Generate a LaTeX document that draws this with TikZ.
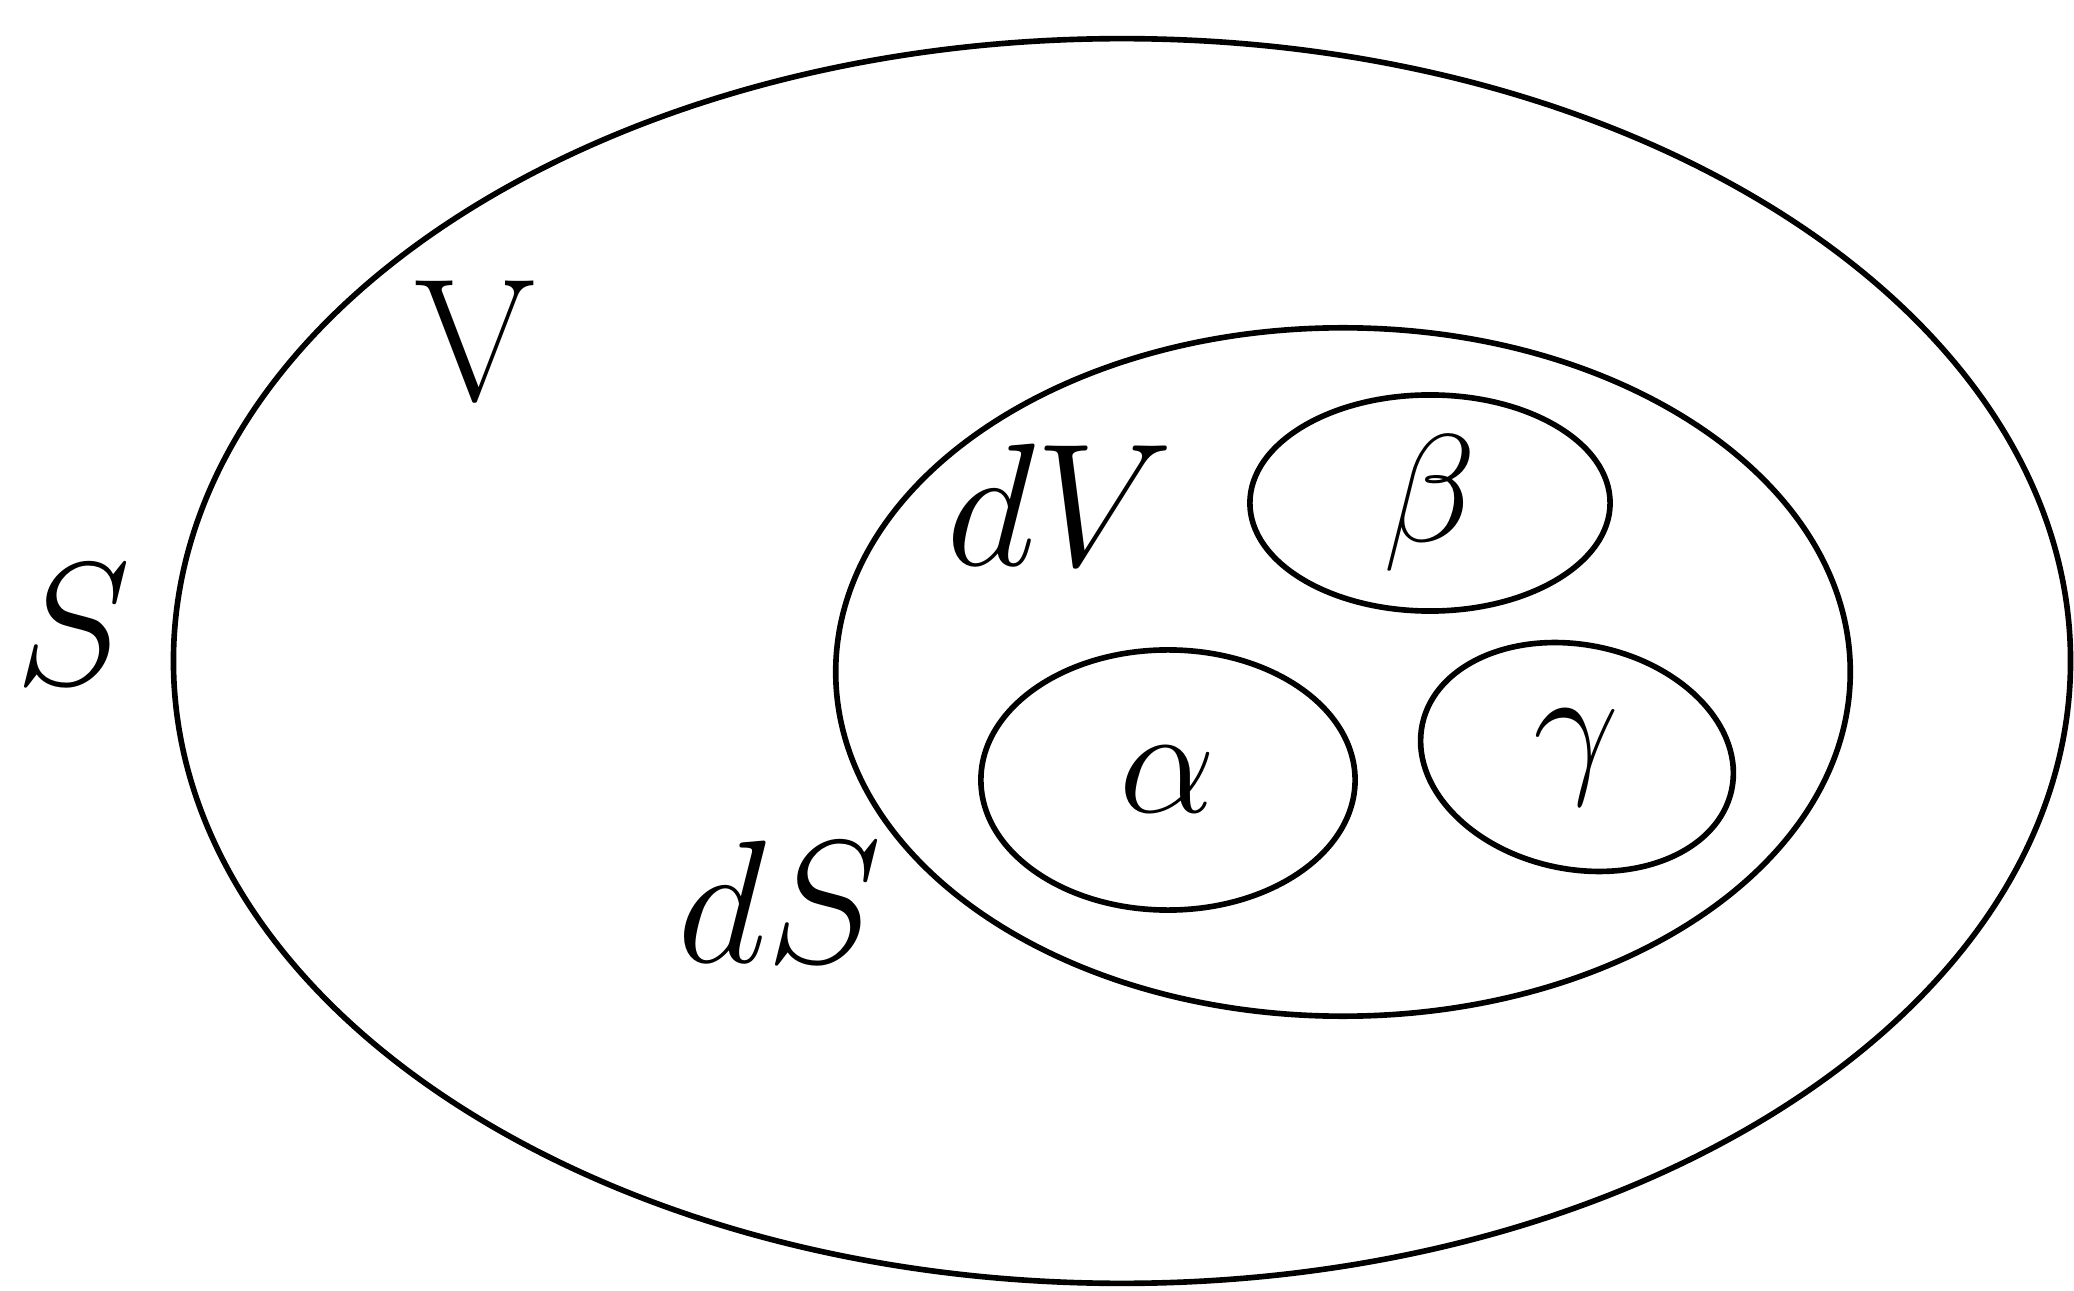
\documentclass[tikz,border=0pt]{standalone}
\usepackage{amsmath,amssymb}
\usepackage{tikz}
\usetikzlibrary{shapes.geometric}
\tikzset{
  region/.style={ellipse, draw=black, line width=1.6pt, inner sep=0pt},
  lbl/.style={font=\Huge, scale=2.0, inner sep=0pt},
  glbl/.style={font=\Huge, scale=1.75, inner sep=0pt},
}
\begin{document}
\begin{tikzpicture}[x=0.01cm, y=-0.01cm]
  \useasboundingbox (0,0) rectangle (2074,1291);
  \node[region, minimum width=18.96cm, minimum height=12.44cm] (vol) at (1122,661) {};
  \node[region, minimum width=10.14cm, minimum height=6.88cm] (dvol) at (1343,672) {};
  \node[region, minimum width=3.60cm, minimum height=2.16cm] (beta) at (1430,503) {};
  \node[region, minimum width=3.74cm, minimum height=2.60cm] (alpha) at (1168,780) {};
  \node[region, minimum width=3.16cm, minimum height=2.24cm, rotate=-12] (gamma) at (1577,757) {};
  \node[lbl] (surf) at (73,625) {$S$};
  \node[lbl] (vlab) at (476,341) {$\mathrm{V}$};
  \node[lbl] (dvlab) at (1060,505) {$dV$};
  \node[lbl] (dslab) at (780,902) {$dS$};
  \node[glbl] at (beta.center) {$\beta$};
  \node[glbl] at (alpha.center) {$\alpha$};
  \node[glbl] at (gamma.center) {$\gamma$};
\end{tikzpicture}
\end{document}
